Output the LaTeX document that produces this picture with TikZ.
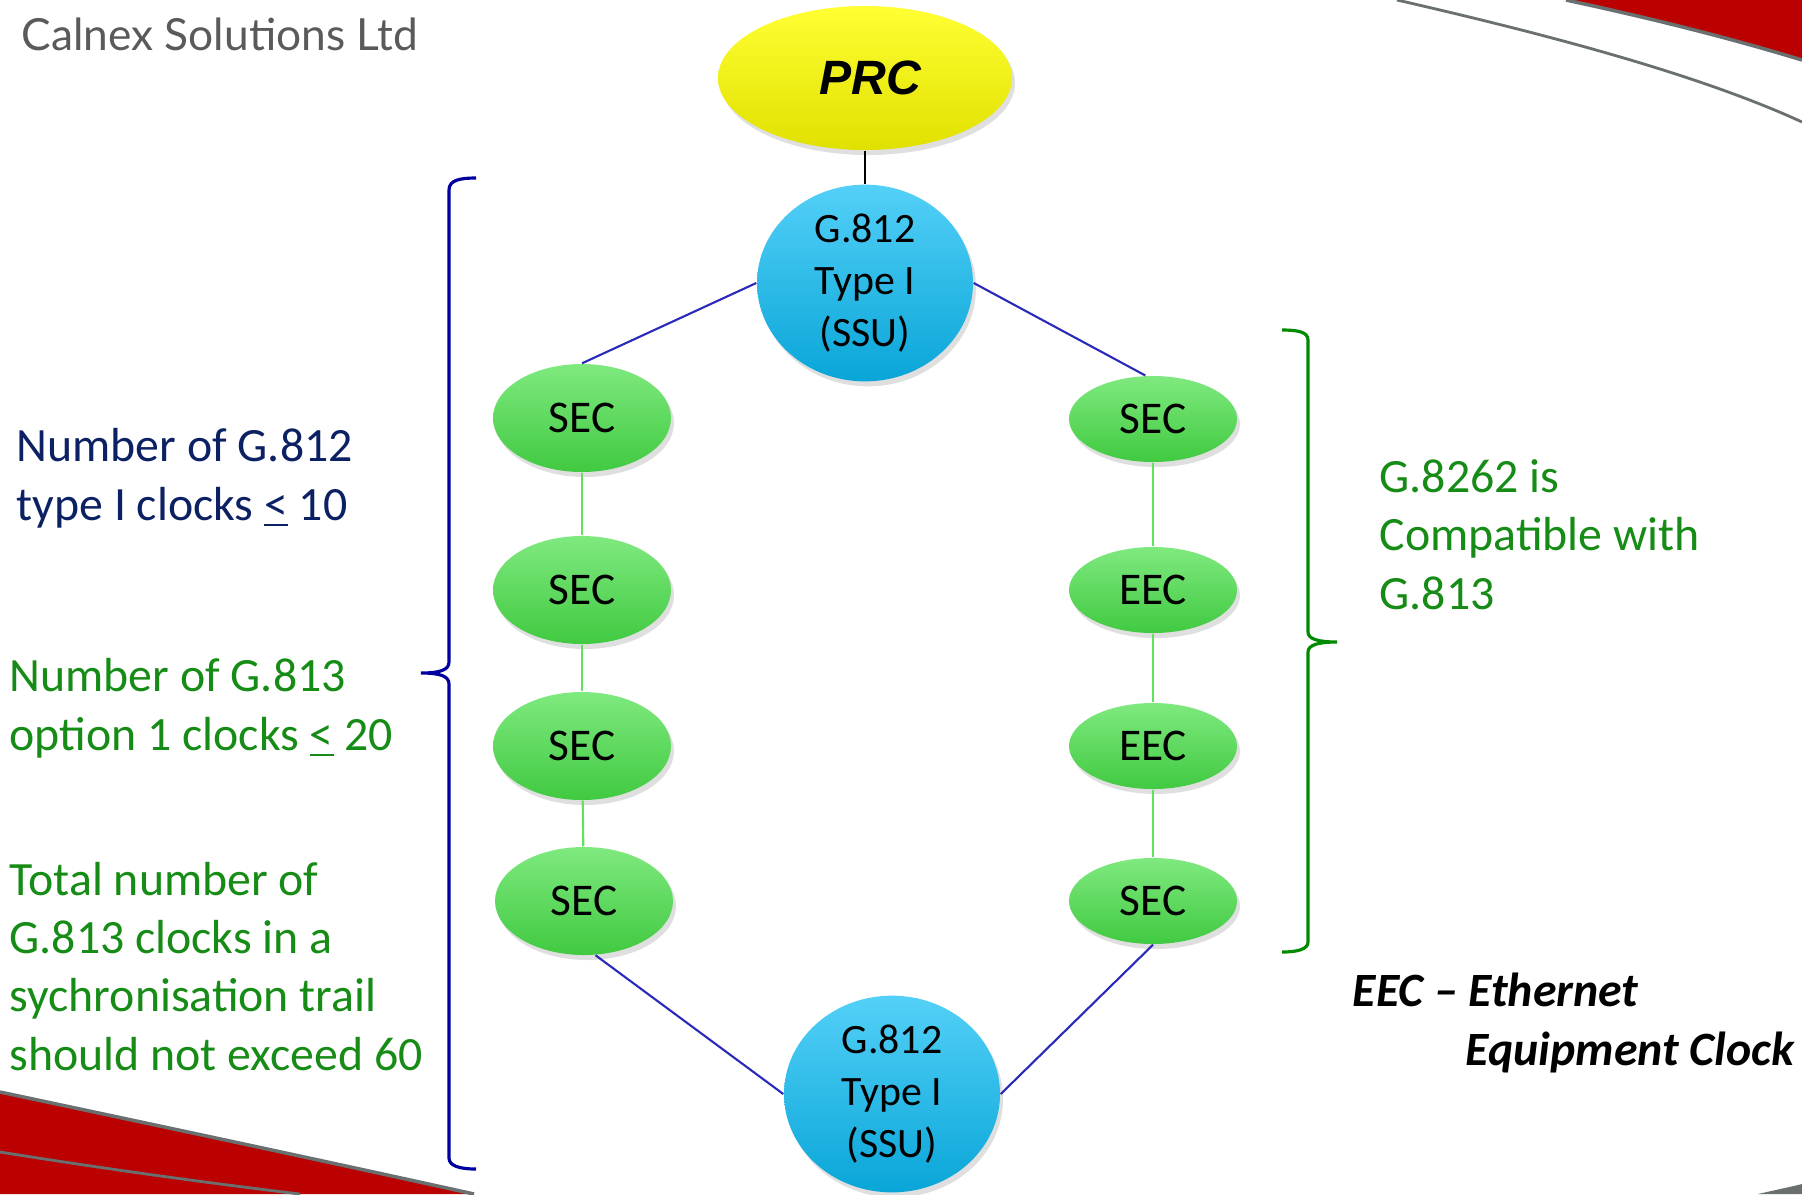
\documentclass[tikz,border=0pt]{standalone}
\usepackage{fontspec}
\setmainfont{Carlito}
\newfontfamily\prcfont{Liberation Sans}
\newfontfamily\logofont{Lato}
\usetikzlibrary{shapes.geometric,shadows}
\definecolor{swred}{HTML}{BA0000}
\definecolor{swgrey}{HTML}{6A7070}
\definecolor{navytext}{HTML}{0C2163}
\definecolor{greentext}{HTML}{168C16}
\definecolor{bracegreen}{HTML}{008A00}
\definecolor{braceblue}{HTML}{0000A0}
\definecolor{linkblue}{HTML}{2A2ABA}
\definecolor{linkgreen}{HTML}{5FE35F}
\definecolor{prcyellow}{HTML}{FFFF00}
\definecolor{ssublue}{HTML}{0ABCF5}
\definecolor{secgreen}{HTML}{48E048}
\definecolor{logogrey}{HTML}{5A5A5A}

\begin{document}
\begin{tikzpicture}[
  clock/.style={ellipse,inner sep=0pt,drop shadow={opacity=.25,shadow xshift=.03,shadow yshift=-.05}},
  prc/.style={clock,top color=prcyellow!80!white,middle color=prcyellow,bottom color=prcyellow!88!black,
    minimum width=2.94cm,minimum height=1.44cm,font=\prcfont\bfseries\itshape\fontsize{13.7}{16}\selectfont},
  ssu/.style={clock,top color=ssublue!70!white,middle color=ssublue,bottom color=ssublue!88!black,
    minimum width=2.16cm,minimum height=1.96cm,align=center,font=\fontsize{11.9}{14.9}\selectfont},
  secl/.style={clock,top color=secgreen!70!white,middle color=secgreen,bottom color=secgreen!90!black,
    minimum width=1.78cm,minimum height=1.08cm,font=\fontsize{12.9}{15}\selectfont},
  secr/.style={secl,minimum width=1.68cm,minimum height=0.86cm},
  bluelink/.style={linkblue,line width=.6pt},
  greenlink/.style={linkgreen,line width=.6pt},
  note/.style={anchor=base west,align=left,inner sep=0pt,font=\fontsize{13.6}{16.6}\selectfont},
]
\useasboundingbox (0,0) rectangle (18.02,-11.94);
\fill[white] (0,0) rectangle (18.02,-11.94);

% swooshes in the corners
\fill[swred] (15.66,0) .. controls (16.5,-0.18) and (17.3,-0.38) .. (18.02,-0.60) -- (18.02,0) -- cycle;
\draw[swgrey,line width=1pt] (15.66,0) .. controls (16.5,-0.18) and (17.3,-0.38) .. (18.02,-0.60);
\draw[swgrey,line width=.8pt] (13.97,0) .. controls (15.5,-0.35) and (17,-0.75) .. (18.02,-1.22);
\fill[swred] (0,-10.92) .. controls (1.6,-11.26) and (3.2,-11.6) .. (4.74,-11.94) -- (0,-11.94) -- cycle;
\draw[swgrey,line width=1pt] (0,-10.92) .. controls (1.6,-11.26) and (3.2,-11.6) .. (4.74,-11.94);
\draw[swgrey,line width=.8pt] (0,-11.52) .. controls (1,-11.68) and (2,-11.82) .. (3.0,-11.94);
\fill[swgrey] (17.58,-11.94) .. controls (17.75,-11.90) and (17.9,-11.87) .. (18.02,-11.84) -- (18.02,-11.94) -- cycle;

\node[anchor=base west,inner sep=0pt,text=logogrey,font=\logofont\fontsize{12.6}{15}\selectfont] (calnex) at (0.21,-0.50) {Calnex Solutions Ltd};

% clocks
\node[prc] (prc) at (8.65,-0.78) {\hspace*{.1cm}PRC};
\node[ssu] (ssutop) at (8.65,-2.83) {G.812\\Type I\\(SSU)};
\node[ssu] (ssubot) at (8.92,-10.94) {G.812\\Type I\\(SSU)};
\node[secl] (sl1) at (5.82,-4.18) {SEC};
\node[secl] (sl2) at (5.82,-5.90) {SEC};
\node[secl] (sl3) at (5.82,-7.46) {SEC};
\node[secl] (sl4) at (5.84,-9.01) {SEC};
\node[secr] (sr1) at (11.53,-4.19) {SEC};
\node[secr] (sr2) at (11.53,-5.90) {EEC};
\node[secr] (sr3) at (11.53,-7.46) {EEC};
\node[secr] (sr4) at (11.53,-9.01) {SEC};

\draw[black,line width=.6pt] (prc) -- (ssutop);
\draw[bluelink] (ssutop.west) -- (sl1.north);
\draw[bluelink] (ssutop.east) -- (sr1.100);
\draw[greenlink] (sl1) -- (sl2);
\draw[greenlink] (sl2) -- (sl3);
\draw[greenlink] (sl3) -- (sl4);
\draw[greenlink] (sr1) -- (sr2);
\draw[greenlink] (sr2) -- (sr3);
\draw[greenlink] (sr3) -- (sr4);
\draw[bluelink] (sl4.-78) -- (ssubot.west);
\draw[bluelink] (sr4.south) -- (ssubot.east);

% brackets
\draw[braceblue,line width=.9pt] (4.76,-1.78) .. controls (4.6,-1.78) and (4.49,-1.80) .. (4.49,-1.90) -- (4.49,-6.62)
  .. controls (4.49,-6.70) and (4.40,-6.73) .. (4.21,-6.73) .. controls (4.40,-6.73) and (4.49,-6.76) .. (4.49,-6.84)
  -- (4.49,-11.58) .. controls (4.49,-11.66) and (4.6,-11.69) .. (4.76,-11.69);
\draw[bracegreen,line width=.9pt] (12.82,-3.30) .. controls (12.98,-3.30) and (13.08,-3.32) .. (13.08,-3.40) -- (13.08,-6.32)
  .. controls (13.08,-6.39) and (13.18,-6.42) .. (13.37,-6.42) .. controls (13.18,-6.42) and (13.08,-6.45) .. (13.08,-6.52)
  -- (13.08,-9.42) .. controls (13.08,-9.49) and (12.98,-9.52) .. (12.82,-9.52);

% notes
\node[note,text=navytext] (g812note) at (0.16,-5.20) {Number of G.812\\type I clocks \underline{<} 10};
\node[note,text=greentext] (g813note) at (0.09,-7.50) {Number of G.813\\option 1 clocks \underline{<} 20};
\node[note,text=greentext] (trailnote) at (0.09,-10.70) {Total number of\\G.813 clocks in a\\sychronisation trail\\should not exceed 60};
\node[note,text=greentext] (compatnote) at (13.79,-6.09) {G.8262 is\\Compatible with\\G.813};
\node[note,font=\bfseries\itshape\fontsize{13.6}{16.6}\selectfont] (eecnote) at (13.52,-10.65) {EEC – Ethernet\\\hspace*{1.13cm}Equipment Clock};
\end{tikzpicture}
\end{document}
